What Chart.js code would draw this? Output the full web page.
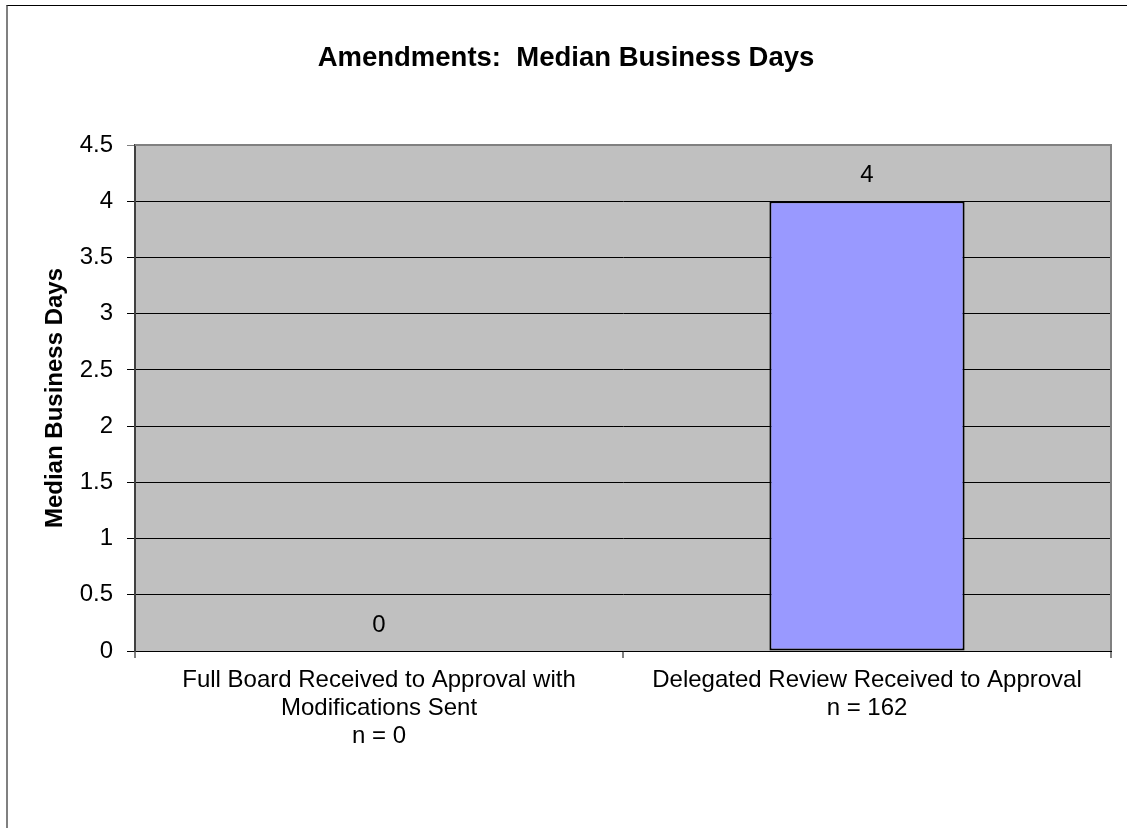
<!DOCTYPE html>
<html>
<head>
<meta charset="utf-8">
<script src="https://cdn.jsdelivr.net/npm/chart.js@4/dist/chart.umd.min.js"></script>
<style>
  html, body { margin: 0; padding: 0; background: #ffffff; }
  #wrap { position: relative; width: 1127px; height: 828px; overflow: hidden; }
  #frame {
    position: absolute; left: 6px; top: 5px; width: 1200px; height: 900px;
    border-top: 1px solid #000000; border-left: 2px solid #808080;
    pointer-events: none;
  }
</style>
</head>
<body>
<div id="wrap">
  <canvas id="chart" width="1127" height="828"></canvas>
  <div id="frame"></div>
</div>
<script>
// Categories (multi-line axis labels) and the median values
const categories = [
  ['Full Board Received to Approval with', 'Modifications Sent', 'n = 0'],
  ['Delegated Review Received to Approval', 'n = 162']
];
const medianDays = [0, 4];
const yTicks = [0, 0.5, 1, 1.5, 2, 2.5, 3, 3.5, 4, 4.5];

const chartTitle = 'Amendments:  Median Business Days';
const yAxisTitle = 'Median Business Days';

const FONT = '"Liberation Sans", Arial, sans-serif';
Chart.defaults.font.family = FONT;
Chart.defaults.color = '#000000';

// Gray plot background plus the gray top/right edges of the plot area
const plotFrame = {
  id: 'plotFrame',
  beforeDraw(chart) {
    const { ctx, chartArea: a } = chart;
    ctx.save();
    ctx.fillStyle = '#C0C0C0';
    ctx.fillRect(a.left, a.top, a.right - a.left, a.bottom - a.top);
    ctx.restore();
  },
  afterDraw(chart) {
    const { ctx, chartArea: a } = chart;
    ctx.save();
    ctx.strokeStyle = '#808080';
    ctx.lineWidth = 2;
    ctx.beginPath();
    ctx.moveTo(a.left, a.top);
    ctx.lineTo(a.right, a.top);
    ctx.lineTo(a.right, a.bottom);
    ctx.stroke();
    ctx.restore();
  }
};

// Value labels above each bar
const valueLabels = {
  id: 'valueLabels',
  afterDatasetsDraw(chart) {
    const { ctx } = chart;
    const meta = chart.getDatasetMeta(0);
    ctx.save();
    ctx.font = '24px ' + FONT;
    ctx.fillStyle = '#000000';
    ctx.textAlign = 'center';
    ctx.textBaseline = 'middle';
    meta.data.forEach((bar, i) => {
      ctx.fillText(String(medianDays[i]), bar.x, bar.y - 26);
    });
    ctx.restore();
  }
};

new Chart(document.getElementById('chart'), {
  type: 'bar',
  data: {
    labels: categories,
    datasets: [{
      data: medianDays,
      backgroundColor: '#9999FF',
      borderColor: '#000000',
      borderWidth: 2,
      borderSkipped: false,
      barPercentage: 0.4,
      categoryPercentage: 1.0
    }]
  },
  options: {
    responsive: false,
    animation: false,
    layout: { padding: { left: 21, right: 16, top: 0, bottom: 0 } },
    plugins: {
      legend: { display: false },
      tooltip: { enabled: false },
      title: {
        display: true,
        text: chartTitle,
        font: { size: 27.5, weight: 'bold', lineHeight: 1.2 },
        color: '#000000',
        padding: { top: 41.5, bottom: 70.5 }
      }
    },
    scales: {
      x: {
        offset: true,
        grid: {
          offset: true,
          drawOnChartArea: false,
          drawTicks: true,
          tickLength: 7,
          color: '#808080',
          lineWidth: 2
        },
        border: { display: true, color: '#000000', width: 1 },
        ticks: {
          font: { size: 24, lineHeight: 1.17 },
          color: '#000000',
          padding: 8,
          maxRotation: 0,
          autoSkip: false
        },
        afterFit(scale) { scale.height = 177; }
      },
      y: {
        min: 0,
        max: 4.5,
        afterBuildTicks(scale) { scale.ticks = yTicks.map(v => ({ value: v })); },
        grid: {
          drawTicks: true,
          tickLength: 8,
          color: (c) => (c.tick && c.tick.value === 4.5) ? '#808080' : '#000000',
          lineWidth: 1
        },
        border: { display: true, color: '#404040', width: 2 },
        ticks: {
          font: { size: 24 },
          color: '#000000',
          padding: 14,
          callback: (v) => String(v)
        },
        title: {
          display: true,
          text: yAxisTitle,
          font: { size: 24, weight: 'bold', lineHeight: 1.2 },
          color: '#000000',
          padding: { top: 20, bottom: 0 }
        },
        afterFit(scale) { scale.width = 114; }
      }
    }
  },
  plugins: [plotFrame, valueLabels]
});
</script>
</body>
</html>
